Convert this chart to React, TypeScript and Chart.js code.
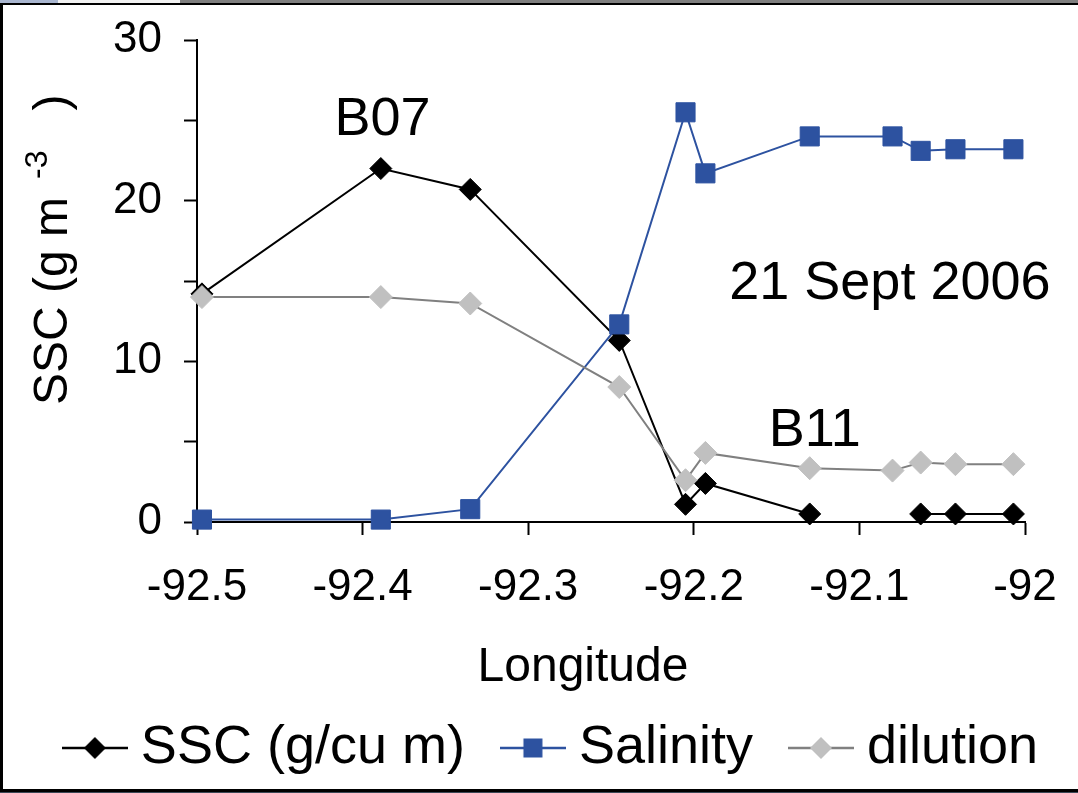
import { useEffect, useRef } from 'react';
import { Chart, registerables } from 'chart.js';

Chart.register(...registerables);

// ---- data ----
const longitudes = [-92.497, -92.389, -92.335, -92.245, -92.205, -92.193, -92.13, -92.08, -92.063, -92.042, -92.007];
const sscValues = [14.2, 22.0, 20.7, 11.3, 1.1, 2.4, 0.5, null, 0.5, 0.5, 0.5];
const salinityValues = [0.15, 0.15, 0.8, 12.3, 25.5, 21.7, 24.0, 24.0, 23.1, 23.2, 23.2];
const dilutionValues = [14.0, 14.0, 13.6, 8.4, 2.6, 4.3, 3.35, 3.2, 3.7, 3.6, 3.6];
const seriesNames = ['SSC (g/cu m)', 'Salinity', 'dilution'];

const xTickValues = [-92.5, -92.4, -92.3, -92.2, -92.1, -92];
const xTickLabels = ['-92.5', '-92.4', '-92.3', '-92.2', '-92.1', '-92'];
const yTickValues = [0, 5, 10, 15, 20, 25, 30];
const yTickLabels = ['0', '', '10', '', '20', '', '30'];

const xTitle = 'Longitude';
const yTitleParts = ['SSC (g m', '-3', ')'];

const annotationTexts = ['B07', 'B11', '21 Sept 2006'];
const annotationX = [-92.388, -92.127, -92.0816];
const annotationY = [24.1, 4.76, 13.85];

// ---- styles ----
const FONT = '"Liberation Sans", Arial, sans-serif';
const BLUE = '#2D52A0';
const GREY_LINE = '#808080';
const GREY_FILL = '#C0C0C0';

function makeLegendImage(lineColor: string, fill: string, shape: 'diamond' | 'square') {
  const c = document.createElement('canvas');
  c.width = 66;
  c.height = 28;
  const g = c.getContext('2d')!;
  g.strokeStyle = lineColor;
  g.lineWidth = 2.5;
  g.beginPath();
  g.moveTo(0, 14);
  g.lineTo(66, 14);
  g.stroke();
  g.fillStyle = fill;
  g.beginPath();
  if (shape === 'diamond') {
    g.moveTo(33 - 11, 14);
    g.lineTo(33, 14 - 11);
    g.lineTo(33 + 11, 14);
    g.lineTo(33, 14 + 11);
    g.closePath();
  } else {
    g.rect(33 - 9.5, 14 - 9.5, 19, 19);
  }
  g.fill();
  return c;
}

const annotationPlugin = {
  id: 'textAnnotations',
  afterDatasetsDraw(chart: any) {
    const { ctx, scales } = chart;
    ctx.save();
    ctx.fillStyle = '#000';
    ctx.font = `54px ${FONT}`;
    ctx.textAlign = 'center';
    ctx.textBaseline = 'alphabetic';
    annotationTexts.forEach((t, i) => {
      ctx.fillText(t, scales.x.getPixelForValue(annotationX[i]), scales.y.getPixelForValue(annotationY[i]));
    });
    ctx.restore();
  },
};

const axisTitlePlugin = {
  id: 'axisTitles',
  afterDraw(chart: any) {
    const ctx = chart.ctx;
    ctx.save();
    ctx.fillStyle = '#000';
    // x-axis title
    ctx.font = `48px ${FONT}`;
    ctx.textAlign = 'center';
    ctx.textBaseline = 'middle';
    ctx.fillText(xTitle, 583, 668);
    // y-axis title (rotated, with superscript)
    ctx.translate(54, 405);
    ctx.rotate(-Math.PI / 2);
    ctx.textAlign = 'left';
    ctx.font = `48px ${FONT}`;
    ctx.fillText(yTitleParts[0], 0, 0);
    let x = ctx.measureText(yTitleParts[0]).width + 18;
    ctx.font = `32px ${FONT}`;
    ctx.fillText(yTitleParts[1], x, -16);
    x += ctx.measureText(yTitleParts[1]).width + 40;
    ctx.font = `48px ${FONT}`;
    ctx.fillText(yTitleParts[2], x, 0);
    ctx.restore();
  },
};

export default function App() {
  const ref = useRef<HTMLCanvasElement>(null);

  useEffect(() => {
    const legendImages = [
      makeLegendImage('#000', '#000', 'diamond'),
      makeLegendImage(BLUE, BLUE, 'square'),
      makeLegendImage(GREY_LINE, GREY_FILL, 'diamond'),
    ];
    const toPts = (vals: (number | null)[]) => vals.map((v, i) => ({ x: longitudes[i], y: v }));

    const chart = new Chart(ref.current!, {
      type: 'line',
      data: {
        datasets: [
          {
            label: seriesNames[0],
            data: toPts(sscValues) as any,
            borderColor: '#000',
            borderWidth: 2,
            pointStyle: 'rectRot',
            pointRadius: 11,
            pointBorderWidth: 1,
            pointBackgroundColor: '#000',
            pointBorderColor: '#000',
            spanGaps: false,
            tension: 0,
            clip: false as any,
            order: 3,
          },
          {
            label: seriesNames[1],
            data: toPts(salinityValues) as any,
            borderColor: BLUE,
            borderWidth: 2,
            pointStyle: 'rect',
            pointRadius: 13.5,
            pointBorderWidth: 1,
            pointBackgroundColor: BLUE,
            pointBorderColor: BLUE,
            tension: 0,
            clip: false as any,
            order: 2,
          },
          {
            label: seriesNames[2],
            data: toPts(dilutionValues) as any,
            borderColor: GREY_LINE,
            borderWidth: 2,
            pointStyle: 'rectRot',
            pointRadius: 11.5,
            pointBorderWidth: 1,
            pointBackgroundColor: GREY_FILL,
            pointBorderColor: GREY_FILL,
            tension: 0,
            clip: false as any,
            order: 1,
          },
        ],
      },
      options: {
        responsive: false,
        animation: false,
        events: [],
        layout: { padding: { left: 16, right: -20, top: 40, bottom: 8 } },
        scales: {
          x: {
            type: 'linear',
            min: -92.5,
            max: -92,
            afterBuildTicks: (s: any) => {
              s.ticks = xTickValues.map((v) => ({ value: v }));
            },
            afterFit: (s: any) => {
              s.height = 150;
              s.paddingLeft = 10;
              s.paddingRight = 10;
            },
            ticks: {
              color: '#000',
              font: { family: FONT, size: 44 },
              padding: 26,
              maxRotation: 0,
              autoSkip: false,
              callback: (_v: any, i: number) => xTickLabels[i],
            },
            grid: {
              display: true,
              drawOnChartArea: false,
              drawTicks: true,
              tickLength: 13,
              tickWidth: 2,
              tickColor: '#000',
              color: '#000',
            },
            border: { display: true, color: '#000', width: 2 },
            title: { display: false },
          },
          y: {
            type: 'linear',
            min: 0,
            max: 30,
            afterBuildTicks: (s: any) => {
              s.ticks = yTickValues.map((v) => ({ value: v }));
            },
            afterFit: (s: any) => {
              s.width = 181;
              s.paddingTop = 10;
              s.paddingBottom = 10;
            },
            ticks: {
              color: '#000',
              font: { family: FONT, size: 44 },
              padding: 22,
              autoSkip: false,
              callback: (_v: any, i: number) => yTickLabels[i],
            },
            grid: {
              display: true,
              drawOnChartArea: false,
              drawTicks: true,
              tickLength: 13,
              tickWidth: 2,
              tickColor: '#000',
              color: '#000',
            },
            border: { display: true, color: '#000', width: 2 },
          },
          yRight: {
            type: 'linear',
            position: 'right',
            display: true,
            grid: { display: false, drawTicks: false },
            border: { display: false },
            ticks: { display: false },
            afterFit: (s: any) => {
              s.width = 73;
              s.paddingTop = 0;
              s.paddingBottom = 0;
            },
          },
        },
        plugins: {
          tooltip: { enabled: false },
          legend: {
            display: true,
            position: 'bottom',
            labels: {
              color: '#000',
              font: { family: FONT, size: 54 },
              padding: 49,
              usePointStyle: true,
              pointStyleWidth: 38,
              sort: (a: any, b: any) => a.datasetIndex - b.datasetIndex,
              generateLabels: (ch: any) => {
                const items = (Chart.defaults.plugins.legend.labels as any).generateLabels(ch);
                items.forEach((it: any) => {
                  it.pointStyle = legendImages[it.datasetIndex];
                });
                return items;
              },
            },
          },
        },
      } as any,
      plugins: [annotationPlugin, axisTitlePlugin],
    });
    return () => chart.destroy();
  }, []);

  return (
    <div style={{ position: 'fixed', left: 0, top: 0, width: 1078, height: 793, background: '#fff', overflow: 'hidden' }}>
      <div style={{ position: 'absolute', left: 0, top: 0, width: 1078, height: 3, background: '#7f7f7f' }} />
      <div style={{ position: 'absolute', left: 0, top: 0, width: 58, height: 3, background: '#a9b6d0' }} />
      <div style={{ position: 'absolute', left: 58, top: 0, width: 122, height: 3, background: '#f2f2f2' }} />
      <div style={{ position: 'absolute', left: 0, top: 3, width: 1078, height: 2, background: '#000' }} />
      <div style={{ position: 'absolute', left: 0, top: 3, width: 3, height: 789, background: '#000' }} />
      <div style={{ position: 'absolute', left: 0, top: 789, width: 1078, height: 3, background: '#000' }} />
      <div style={{ position: 'absolute', left: 0, top: 792, width: 1078, height: 1, background: '#3b4856' }} />
      <canvas ref={ref} width={1078} height={793} style={{ position: 'absolute', left: 0, top: 0 }} />
    </div>
  );
}
